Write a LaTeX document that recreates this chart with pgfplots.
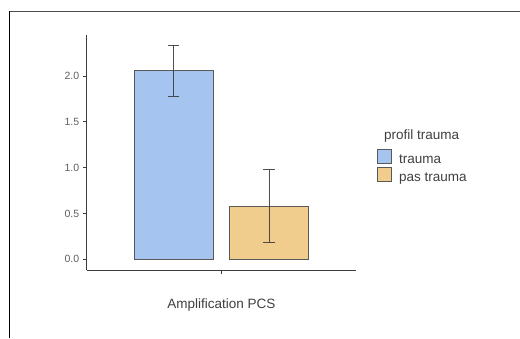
\documentclass[border=0pt]{standalone}
\usepackage{pgfplots}
\pgfplotsset{compat=1.18}
\usepackage{fontspec}
\setmainfont{Liberation Sans}
\definecolor{trauma}{RGB}{166,196,240}
\definecolor{pastrauma}{RGB}{240,205,140}
\definecolor{axisgray}{RGB}{60,60,60}
\definecolor{ticktext}{RGB}{95,95,95}
\begin{document}
\begin{tikzpicture}[x=1pt,y=1pt]
\path[use as bounding box, fill=white] (0,0) rectangle (520,338);
\draw[color=black!70, line width=1.5pt] (9,326.5) -- (520,326.5);
\draw[black, line width=1pt] (9.3,0) -- (9.3,327.2);
\begin{axis}[
    at={(86.7pt,68pt)}, anchor=south west,
    scale only axis, width=269.3pt, height=235pt,
    xmin=-1.413, xmax=1.413,
    ymin=-0.117, ymax=2.447,
    axis x line*=bottom, axis y line*=left,
    axis line style={axisgray, line width=0.8pt, -},
    tick align=outside, major tick length=4pt,
    tick style={axisgray, line width=0.8pt},
    xtick={0}, xticklabels={},
    ytick={0,0.5,1,1.5,2},
    yticklabel style={font=\fontsize{10.5}{12}\selectfont, text=ticktext},
    /pgf/number format/assume math mode=true,
    /pgf/number format/.cd, fixed, fixed zerofill, precision=1, /pgfplots/.cd,
    xlabel={Amplification PCS},
    xlabel style={font=\fontsize{13.5}{16}\selectfont, text=black!75, at={(axis description cs:0.5,0)}, anchor=base, yshift=-38.5pt},
    ybar, bar width=0.826, bar shift=0pt,
    legend style={at={(axis description cs:1.078,0.516)}, anchor=north west,
        draw=none, fill=none, inner sep=0pt, row sep=0pt, column sep=7pt,
        nodes={inner sep=0pt, text height=10.5pt, text depth=3.5pt,
               font=\fontsize{13.5}{16}\selectfont, text=black!75}},
    legend cell align=left,
    legend image code/.code={\draw[#1, line width=0.9pt] (0pt,-3.5pt) rectangle (14pt,10.5pt);},
    error bars/y dir=both, error bars/y explicit,
    error bars/error mark options={rotate=90, mark size=5.6pt, line width=0.9pt, draw=black!80, draw opacity=0.85},
    error bars/error bar style={line width=0.9pt, draw=black!80, draw opacity=0.85},
]
\addplot[fill=trauma, draw=black!65, line width=0.9pt]
    coordinates {(-0.5,2.057) +- (0,0.277)};
\addlegendentry{trauma}
\addplot[fill=pastrauma, draw=black!65, line width=0.9pt]
    coordinates {(0.5,0.578) += (0,0.399) -= (0,0.389)};
\addlegendentry{pas trauma}
\end{axis}
\node[anchor=base west, inner sep=0pt, font=\fontsize{13.5}{16}\selectfont, text=black!75] at (384,198) {profil trauma};
\end{tikzpicture}
\end{document}
